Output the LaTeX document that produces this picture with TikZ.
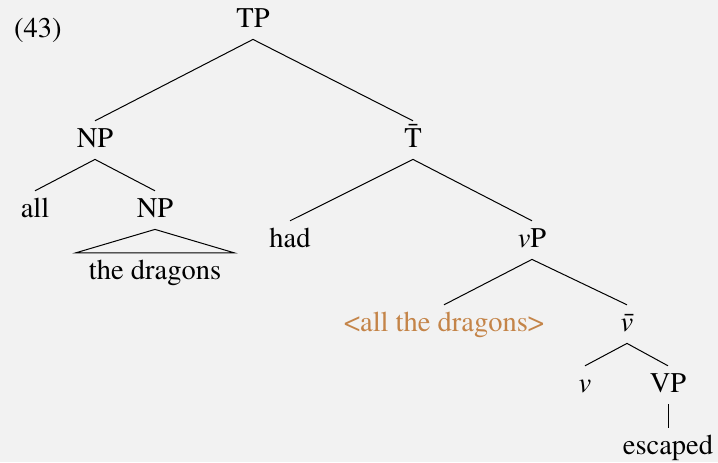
\documentclass[tikz,border=0pt]{standalone}
\usepackage[T1]{fontenc}
\usepackage{mathptmx}
\usetikzlibrary{calc}
\definecolor{paper}{RGB}{242,242,242}
\definecolor{traceorange}{RGB}{196,132,72}

\begin{document}
\begin{tikzpicture}[
    x=0.5pt,
    y=-0.5pt,
    font=\fontsize{14.25}{17}\selectfont,
    cat/.style={
        anchor=base,
        text height=9.4pt,
        text depth=2.5pt,
        inner ysep=3.5pt
    },
    branch/.style={line width=0.5pt}
]

\fill[paper] (0,0) rectangle (718,462);
\useasboundingbox (0,0) rectangle (718,462);

\node[anchor=base west] (num) at (7,37) {(43)};

% categories, placed by their baselines
\node[cat] (tp) at (253,27) {TP};
\node[cat] (np) at (95,147) {NP};
\node[cat] (tbar) at (413,147) {\=T};
\node[cat] (all) at (35,217) {all};
\node[cat] (npin) at (155,217) {NP};
\node[cat] (dragons) at (155,279) {the dragons};
\node[cat] (had) at (290,247) {had};
\node[cat] (vp) at (532,247) {$v$P};
\node[cat,text=traceorange] (trace) at (444,331) {\textless all the dragons\textgreater};
\node[cat] (vbar) at (627,331) {$\bar{v}$};
\node[cat] (v) at (585,392) {$v$};
\node[cat] (vpin) at (668,392) {VP};
\node[cat] (escaped) at (668,454) {escaped};

\draw[branch] (tp.south)--(np.north);
\draw[branch] (tp.south)--(tbar.north);
\draw[branch] (np.south)--(all.north);
\draw[branch] (np.south)--(npin.north);
\draw[branch] (npin.south)
    --([xshift=-3pt]dragons.north west)
    --([xshift=3pt]dragons.north east)--cycle;
\draw[branch] (tbar.south)--(had.north);
\draw[branch] (tbar.south)--(vp.north);
\draw[branch] (vp.south)--(trace.north);
\draw[branch] (vp.south)--(vbar.north);
\draw[branch] (vbar.south)--(v.north);
\draw[branch] (vbar.south)--(vpin.north);
\draw[branch] (vpin.south)--(escaped.north);

\end{tikzpicture}
\end{document}
